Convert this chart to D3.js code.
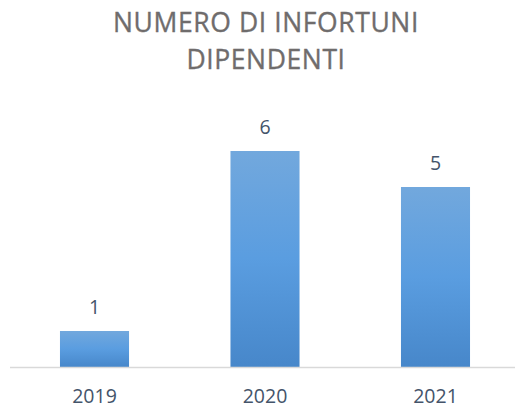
<!DOCTYPE html>
<html><head><meta charset="utf-8">
<script src="https://cdn.jsdelivr.net/npm/d3@7"></script>
<style>body{margin:0;background:#fff;}svg{display:block;}</style>
</head><body>
<script>
const categories = ["2019", "2020", "2021"];
const values = [1, 6, 5];
const titleLines = ["NUMERO DI INFORTUNI", "DIPENDENTI"];

const W = 518, H = 408;
const svg = d3.select("body").append("svg").attr("width", W).attr("height", H);

const defs = svg.append("defs");
const g = defs.append("linearGradient").attr("id", "barGrad")
  .attr("x1", 0).attr("y1", 0).attr("x2", 0).attr("y2", 1);
g.append("stop").attr("offset", "0%").attr("stop-color", "#72a8dd");
g.append("stop").attr("offset", "50%").attr("stop-color", "#5a9de0");
g.append("stop").attr("offset", "100%").attr("stop-color", "#4787ca");

const x = d3.scaleBand().domain(categories).range([9.25, 520.75]).paddingInner(0.595).paddingOuter(0.2975);
const y = d3.scaleLinear().domain([0, 7]).range([367, 115]);

const font = "'Open Sans', 'Noto Sans', sans-serif";

svg.append("g").selectAll("text").data(titleLines).join("text")
  .attr("x", 266).attr("y", (d, i) => 32 + i * 37)
  .attr("text-anchor", "middle")
  .attr("font-family", font).attr("font-size", 26.5)
  .attr("letter-spacing", 0.6)
  .attr("font-weight", 500)
  .attr("fill", "#6f6c6c")
  .attr("stroke", "#6f6c6c").attr("stroke-width", 0.35)
  .text(d => d);

svg.append("g").selectAll("rect").data(values).join("rect")
  .attr("x", (d, i) => x(categories[i]))
  .attr("width", x.bandwidth())
  .attr("y", d => y(d))
  .attr("height", d => y(0) - y(d))
  .attr("fill", "url(#barGrad)");

svg.append("line").attr("x1", 10).attr("x2", 515)
  .attr("y1", y(0) + 0.5).attr("y2", y(0) + 0.5)
  .attr("stroke", "#d9d9d9").attr("stroke-width", 1.5);

svg.append("g").selectAll("text").data(values).join("text")
  .attr("x", (d, i) => x(categories[i]) + x.bandwidth() / 2)
  .attr("y", d => y(d) - 17)
  .attr("text-anchor", "middle")
  .attr("font-family", font).attr("font-size", 19.5)
  .attr("fill", "#44546a")
  .text(d => d);

const xAxis = d3.axisBottom(x).tickSize(0).tickPadding(0);
const ax = svg.append("g").attr("transform", `translate(0,${y(0)})`).call(xAxis);
ax.select(".domain").remove();
ax.selectAll("text").attr("y", 22).attr("dy", "0.71em")
  .attr("font-family", font).attr("font-size", 19.5).attr("fill", "#44546a");
</script>
</body></html>
